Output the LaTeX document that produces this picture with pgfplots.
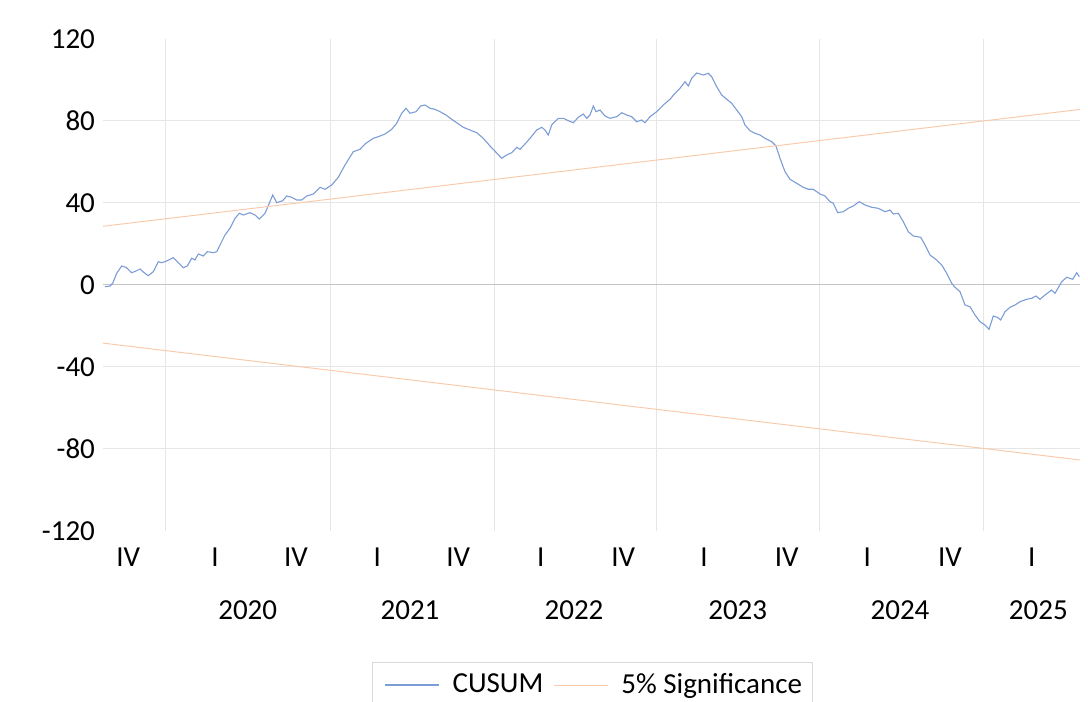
\documentclass[border=0pt]{standalone}
\usepackage{pgfplots}
\pgfplotsset{compat=1.18}
\usepackage{fontspec}
\setmainfont{Carlito}
\definecolor{cusum}{HTML}{4472C4}
\definecolor{sig}{HTML}{ED7D31}
\definecolor{gridc}{HTML}{E6E6E6}
\definecolor{zeroc}{HTML}{C4C4C4}
\newcommand{\lab}{\fontsize{14.5pt}{17pt}\selectfont}
\begin{document}
\begin{tikzpicture}
\path[use as bounding box] (0,0) rectangle (544pt,351pt);
\begin{axis}[
 at={(51.5pt,85.65pt)}, anchor=south west,
 scale only axis, width=488.5pt, height=246pt,
 xmin=103, xmax=1080, ymin=-120, ymax=120,
 axis line style={draw=none},
 major tick length=0pt, minor tick length=0pt,
 ytick={-120,-80,-40,0,40,80,120},
 yticklabels={-120,-80,-40,0,40,80,120},
 minor ytick={-80,-40,40,80},
 yminorgrids=true,
 xtick={128.3,215,296,377.3,458.3,540.7,623.3,704,786.7,867.3,950,1031.7},
 xticklabels={IV,I,IV,I,IV,I,IV,I,IV,I,IV,I},
 minor xtick={165.7,330,494,656,819.3,983.3},
 xminorgrids=true,
 minor grid style={gridc, line width=0.5pt},
 tick label style={font=\lab, text=black},
 xticklabel style={anchor=center, yshift=-13pt},
 yticklabel style={xshift=-0.5pt},
 clip=false,
 legend columns=2,
 legend style={at={(0.2753,-0.2669)}, anchor=north west, draw=gray!30, line width=0.5pt,
   font=\lab, inner xsep=3pt, inner ysep=3.5pt,
   /tikz/every odd column/.append style={column sep=4.5pt},
   /tikz/every even column/.append style={column sep=0pt}},
 legend image code/.code={\path (-3pt,0pt); \draw[#1] (0pt,0pt) -- (27pt,0pt);},
]
\addplot[zeroc, line width=0.7pt, forget plot] coordinates {(103,0) (1080,0)};
\addplot[cusum!70, line width=0.55pt] coordinates {
(105,-0.98) (110,-0.63) (112.7,0.68) (116.7,5.56) (121.7,9.12) (126,8.49) (131.7,5.85) (136,6.68) (140,7.66) (143.3,6.19) (148.3,4.39) (153.3,6.34) (158.3,11.22) (161.7,10.73) (166.7,11.56) (173.3,13.17) (178.3,10.73) (183.3,8.29) (187.3,9.12) (191.7,12.88) (195,12.05) (198.3,14.98) (203.3,14.00) (207.3,16.10) (213.3,15.61) (216.7,16.10) (220,19.37) (225,24.24) (230,27.51) (235,32.39) (239.3,34.83) (243.3,34.00) (250,35.12) (255,34.00) (259.3,32.05) (265,34.83) (269.3,39.71) (272.7,43.76) (276.7,40.00) (282.7,40.98) (286.7,43.27) (291.7,42.63) (296.7,41.32) (301.7,41.32) (306.7,43.27) (313.3,44.24) (320,47.51) (325,46.54) (331.7,48.63) (338.3,52.39) (345,58.39) (353.3,64.88) (360,66.05) (365,68.63) (368.3,69.76) (373.3,71.41) (378.3,72.19) (385,73.51) (391.7,75.80) (396.7,78.73) (401.7,83.61) (406,86.05) (410,83.61) (416,84.39) (420.7,87.17) (425,87.66) (430,86.05) (435,85.56) (440,84.39) (446,82.78) (451.7,80.68) (456.7,79.02) (463.3,76.78) (470,75.46) (476.7,74.15) (483.3,71.41) (490,67.66) (496.7,64.24) (501.7,61.66) (506.7,63.27) (511.7,64.39) (516.7,67.02) (520,66.05) (525,68.63) (530,71.41) (536.7,75.46) (541.7,76.78) (545,75.46) (548.3,73.02) (551.7,77.90) (558.3,81.17) (563.3,81.17) (568.3,80.00) (573.3,79.02) (578.3,81.66) (583.3,83.27) (586.7,81.17) (590,82.78) (593.3,87.17) (596,84.39) (600,85.22) (605,82.29) (610,81.17) (616.7,81.95) (621.7,83.90) (626.7,82.78) (631.7,81.95) (636.7,79.51) (641.7,80.34) (645,79.02) (650,81.95) (656.7,84.39) (663.3,87.66) (670,90.44) (675,93.37) (680,95.80) (685,99.02) (688.3,96.93) (691.7,100.68) (696.7,103.27) (700,102.78) (703.3,102.29) (708.3,103.12) (711.7,101.46) (716.7,96.58) (721.7,92.54) (726.7,90.44) (731.7,88.49) (736.7,85.22) (741.7,81.95) (745,77.90) (750,75.12) (755,73.85) (760,73.02) (765,71.41) (771.7,69.76) (776,67.66) (780,61.66) (785,55.12) (790,51.41) (796.7,49.46) (803.3,47.51) (808.3,46.54) (813.3,46.54) (820,44.24) (825,43.27) (830,40.49) (833.3,39.71) (837.7,35.12) (843.3,35.61) (848.3,37.27) (853.3,38.39) (859.3,40.49) (865,38.88) (871.7,37.76) (878.3,37.27) (885,35.61) (890,36.44) (893.3,34.49) (898.3,34.83) (903.3,30.73) (908.3,25.85) (913.3,23.76) (920.7,23.12) (925,19.37) (930,14.49) (936.7,12.05) (941.7,9.61) (946.7,5.56) (951.7,0.68) (955,-1.27) (960,-3.41) (965,-9.90) (970,-10.73) (975,-14.78) (980,-18.05) (985,-19.66) (989,-21.76) (993.3,-15.27) (997.3,-15.90) (1000.7,-17.22) (1005,-13.17) (1010,-11.02) (1015,-9.90) (1020,-8.29) (1026.7,-7.12) (1031.7,-6.63) (1036,-5.51) (1040,-7.12) (1045,-5.02) (1051.7,-2.59) (1055,-4.20) (1061.7,1.46) (1066.7,3.61) (1072.7,2.63) (1076.7,5.85) (1079.3,3.90)
};
\addlegendentry{CUSUM}
\addplot[sig!40, line width=0.5pt] coordinates {(103,28.5) (1080,85.5)};
\addlegendentry{5\% Significance}
\addplot[sig!40, line width=0.5pt, forget plot] coordinates {(103,-28.5) (1080,-85.5)};
\node[font=\lab] at (axis cs:247.7,-158.7) {2020};
\node[font=\lab] at (axis cs:410,-158.7) {2021};
\node[font=\lab] at (axis cs:574,-158.7) {2022};
\node[font=\lab] at (axis cs:737.7,-158.7) {2023};
\node[font=\lab] at (axis cs:900,-158.7) {2024};
\node[font=\lab] at (axis cs:1038.3,-158.7) {2025};
\end{axis}
\end{tikzpicture}
\end{document}
